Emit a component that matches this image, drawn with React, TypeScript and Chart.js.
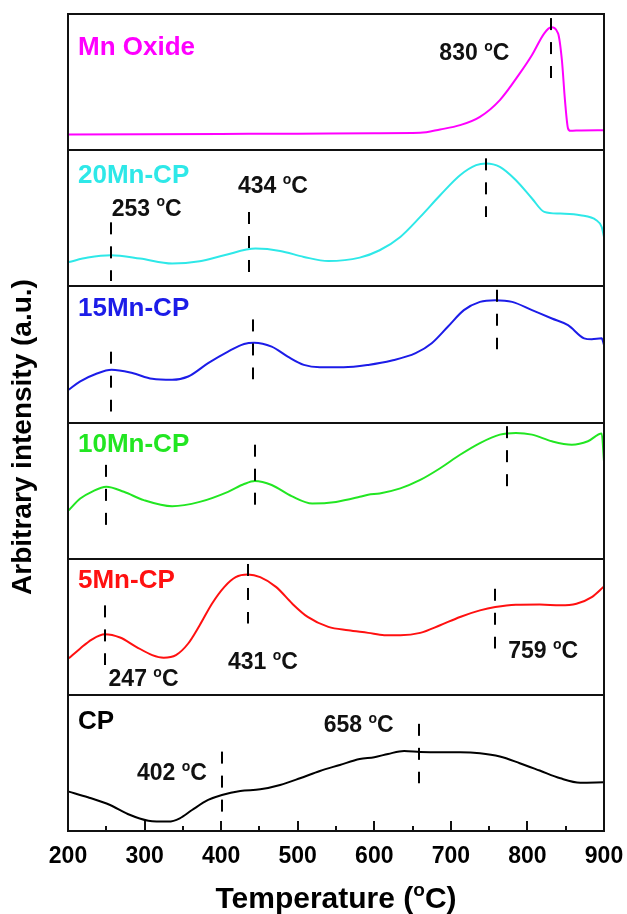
import { useEffect, useRef } from 'react';
import { Chart, registerables } from 'chart.js';

Chart.register(...registerables);

// ---------- data ----------
const panelNames = ['CP', '5Mn-CP', '10Mn-CP', '15Mn-CP', '20Mn-CP', 'Mn Oxide'];
const panelColors = ['#000000', '#ff1010', '#22e622', '#1c1ce8', '#2ee8e8', '#ff00ff'];
const panelNameY = [0.82, 0.85, 0.85, 0.85, 0.83, 0.77];

const xMin = 200;
const xMax = 900;
const xMajorTicks = [200, 300, 400, 500, 600, 700, 800, 900];
const xMinorTicks = [250, 350, 450, 550, 650, 750, 850];

const cpT = [201, 226, 255, 278, 305, 331, 346, 362, 383, 401, 425, 451, 477, 503, 529, 555, 581, 600, 618, 639, 660, 686, 712, 738, 764, 790, 816, 843, 869, 900];
const cpI = [0.289, 0.248, 0.191, 0.125, 0.076, 0.069, 0.093, 0.154, 0.228, 0.265, 0.294, 0.306, 0.338, 0.387, 0.441, 0.485, 0.529, 0.542, 0.566, 0.588, 0.581, 0.578, 0.578, 0.571, 0.547, 0.498, 0.444, 0.387, 0.355, 0.358];

const mn5T = [201, 216, 231, 248, 268, 289, 310, 325, 341, 357, 372, 388, 404, 419, 435, 451, 472, 493, 513, 540, 566, 592, 613, 634, 660, 686, 712, 738, 758, 785, 816, 843, 864, 884, 900];
const mn5I = [0.268, 0.341, 0.406, 0.445, 0.421, 0.353, 0.292, 0.273, 0.292, 0.377, 0.511, 0.669, 0.791, 0.864, 0.883, 0.864, 0.791, 0.669, 0.572, 0.499, 0.474, 0.455, 0.438, 0.438, 0.455, 0.511, 0.572, 0.62, 0.645, 0.662, 0.664, 0.657, 0.669, 0.718, 0.796];

const mn10T = [201, 216, 231, 250, 273, 299, 336, 372, 409, 430, 444, 466, 492, 519, 550, 581, 592, 607, 634, 660, 686, 712, 738, 764, 785, 806, 832, 858, 879, 897, 900];
const mn10I = [0.356, 0.442, 0.491, 0.528, 0.491, 0.43, 0.385, 0.417, 0.491, 0.548, 0.57, 0.541, 0.459, 0.405, 0.417, 0.454, 0.47, 0.479, 0.516, 0.578, 0.664, 0.763, 0.849, 0.911, 0.923, 0.911, 0.862, 0.837, 0.862, 0.919, 0.714];

const mn15T = [201, 216, 237, 257, 284, 310, 336, 357, 383, 409, 430, 443, 466, 487, 508, 529, 560, 592, 623, 654, 675, 696, 717, 738, 758, 780, 806, 832, 853, 874, 884, 897, 900];
const mn15I = [0.241, 0.302, 0.358, 0.387, 0.363, 0.321, 0.314, 0.338, 0.436, 0.521, 0.577, 0.586, 0.557, 0.484, 0.423, 0.406, 0.406, 0.423, 0.455, 0.509, 0.582, 0.703, 0.825, 0.886, 0.898, 0.886, 0.825, 0.764, 0.715, 0.618, 0.611, 0.618, 0.569];

const mn20T = [201, 226, 256, 294, 336, 372, 404, 445, 477, 508, 540, 581, 607, 634, 660, 686, 712, 733, 746, 764, 785, 806, 822, 843, 869, 890, 897, 900];
const mn20I = [0.179, 0.211, 0.228, 0.204, 0.167, 0.184, 0.228, 0.277, 0.26, 0.216, 0.186, 0.211, 0.265, 0.363, 0.51, 0.669, 0.816, 0.89, 0.902, 0.877, 0.779, 0.645, 0.547, 0.534, 0.522, 0.485, 0.436, 0.363];

const mnOxT = [200, 300, 400, 500, 600, 660, 686, 712, 738, 764, 790, 806, 822, 831, 840, 845, 849, 853, 856, 870, 900];
const mnOxI = [0.115, 0.117, 0.119, 0.121, 0.124, 0.127, 0.152, 0.184, 0.245, 0.368, 0.564, 0.699, 0.858, 0.902, 0.858, 0.662, 0.368, 0.16, 0.142, 0.145, 0.146];

const seriesT = [cpT, mn5T, mn10T, mn15T, mn20T, mnOxT];
const seriesI = [cpI, mn5I, mn10I, mn15I, mn20I, mnOxI];

// dashed peak markers: panel index, temperature, low, high (panel-relative)
const markerPanel = [5, 4, 4, 4, 3, 3, 3, 2, 2, 2, 1, 1, 1, 0, 0];
const markerTemp = [831, 256, 437, 746, 256, 441, 760, 250, 444, 773, 248, 435, 758, 401, 659];
const markerLow = [0.53, 0.04, 0.105, 0.51, 0.08, 0.318, 0.538, 0.244, 0.393, 0.528, 0.219, 0.523, 0.341, 0.142, 0.351];
const markerHigh = [0.97, 0.47, 0.546, 0.94, 0.52, 0.757, 0.975, 0.689, 0.837, 0.973, 0.657, 0.961, 0.779, 0.583, 0.787];

// peak temperature labels: panel, left temperature, centre (panel-relative), value
const labelPanel = [5, 4, 4, 1, 1, 1, 0, 0];
const labelTemp = [685, 257, 422, 253, 409, 775, 290, 534];
const labelY = [0.72, 0.58, 0.743, 0.124, 0.248, 0.328, 0.436, 0.787];
const labelText = ['830', '253', '434', '247', '431', '759', '402', '658'];

const xTitleMain = 'Temperature (';
const xTitleEnd = 'C)';
const yTitle = 'Arbitrary intensity (a.u.)';

const FONT = 'Arial, "Liberation Sans", sans-serif';

type Part = { t: string; sup?: boolean };

function drawRich(ctx: CanvasRenderingContext2D, parts: Part[], x: number, yc: number, size: number, align: 'left' | 'center', color: string) {
  const mainFont = `bold ${size}px ${FONT}`;
  const supFont = `bold ${Math.round(size * 0.62)}px ${FONT}`;
  let total = 0;
  const widths = parts.map((p) => {
    ctx.font = p.sup ? supFont : mainFont;
    const w = ctx.measureText(p.t).width;
    total += w;
    return w;
  });
  let cx = align === 'center' ? x - total / 2 : x;
  const base = yc + size * 0.358;
  ctx.fillStyle = color;
  ctx.textAlign = 'left';
  ctx.textBaseline = 'alphabetic';
  parts.forEach((p, i) => {
    ctx.font = p.sup ? supFont : mainFont;
    ctx.fillText(p.t, cx, p.sup ? base - size * 0.4 : base);
    cx += widths[i];
  });
}

const decorPlugin = {
  id: 'decor',
  afterDatasetsDraw(chart: any) {
    const { ctx, chartArea: a, scales } = chart;
    const x = scales.x;
    const y = scales.y;
    ctx.save();
    ctx.strokeStyle = '#111111';
    ctx.lineWidth = 2;
    ctx.setLineDash([]);
    // separators
    for (let i = 1; i < panelNames.length; i++) {
      const py = Math.round(y.getPixelForValue(i));
      ctx.beginPath();
      ctx.moveTo(a.left, py);
      ctx.lineTo(a.right, py);
      ctx.stroke();
    }
    ctx.strokeRect(a.left, a.top, a.right - a.left, a.bottom - a.top);
    // inward ticks
    const tick = (t: number, len: number) => {
      const px = Math.round(x.getPixelForValue(t));
      ctx.beginPath();
      ctx.moveTo(px, a.bottom);
      ctx.lineTo(px, a.bottom - len);
      ctx.stroke();
    };
    xMajorTicks.forEach((t) => tick(t, 10));
    xMinorTicks.forEach((t) => tick(t, 5));
    // dashed markers
    ctx.setLineDash([12, 12]);
    ctx.strokeStyle = '#000000';
    ctx.lineWidth = 2;
    markerPanel.forEach((p, i) => {
      const px = Math.round(x.getPixelForValue(markerTemp[i]));
      ctx.beginPath();
      ctx.moveTo(px, y.getPixelForValue(p + markerHigh[i]));
      ctx.lineTo(px, y.getPixelForValue(p + markerLow[i]));
      ctx.stroke();
    });
    ctx.setLineDash([]);
    // peak labels
    labelPanel.forEach((p, i) => {
      drawRich(ctx, [{ t: labelText[i] + ' ' }, { t: 'o', sup: true }, { t: 'C' }], x.getPixelForValue(labelTemp[i]), y.getPixelForValue(p + labelY[i]), 23, 'left', '#111111');
    });
    // panel names
    panelNames.forEach((n, i) => {
      drawRich(ctx, [{ t: n }], a.left + 10, y.getPixelForValue(i + panelNameY[i]), 26, 'left', panelColors[i]);
    });
    // x title
    drawRich(ctx, [{ t: xTitleMain }, { t: 'o', sup: true }, { t: xTitleEnd }], (a.left + a.right) / 2, 897, 30, 'center', '#000000');
    // y title
    ctx.save();
    ctx.translate(21, 437);
    ctx.rotate(-Math.PI / 2);
    drawRich(ctx, [{ t: yTitle }], 0, 0, 28, 'center', '#000000');
    ctx.restore();
    ctx.restore();
  },
};

export default function App() {
  const ref = useRef<HTMLCanvasElement>(null);
  useEffect(() => {
    if (!ref.current) return;
    const datasets = panelNames.map((name, i) => ({
      label: name,
      data: seriesT[i].map((t, k) => ({ x: t, y: i + seriesI[i][k] })),
      borderColor: panelColors[i],
      borderWidth: 2,
      pointRadius: 0,
      fill: false,
      cubicInterpolationMode: 'monotone' as const,
    }));
    const chart = new Chart(ref.current, {
      type: 'line',
      data: { datasets },
      plugins: [decorPlugin],
      options: {
        animation: false,
        responsive: false,
        devicePixelRatio: 1,
        layout: { padding: { top: 14, right: 23, left: 0, bottom: 0 } },
        plugins: { legend: { display: false }, tooltip: { enabled: false } },
        scales: {
          x: {
            type: 'linear',
            min: xMin,
            max: xMax,
            afterFit: (s: any) => { s.height = 83; s.paddingLeft = 0; s.paddingRight = 0; },
            afterBuildTicks: (s: any) => { s.ticks = xMajorTicks.map((v) => ({ value: v })); },
            ticks: { color: '#000000', padding: 12, font: { family: FONT, size: 23, weight: 'bold' } },
            grid: { display: false, drawTicks: false },
            border: { display: false },
          },
          y: {
            type: 'linear',
            min: 0,
            max: panelNames.length,
            afterFit: (s: any) => { s.width = 68; s.paddingTop = 0; s.paddingBottom = 0; },
            ticks: { display: false },
            grid: { display: false, drawTicks: false },
            border: { display: false },
            title: { display: false },
          },
        },
      },
    });
    return () => chart.destroy();
  }, []);
  return (
    <div style={{ position: 'absolute', left: 0, top: 0, width: 627, height: 914, background: '#ffffff' }}>
      <canvas ref={ref} width={627} height={914} />
    </div>
  );
}
